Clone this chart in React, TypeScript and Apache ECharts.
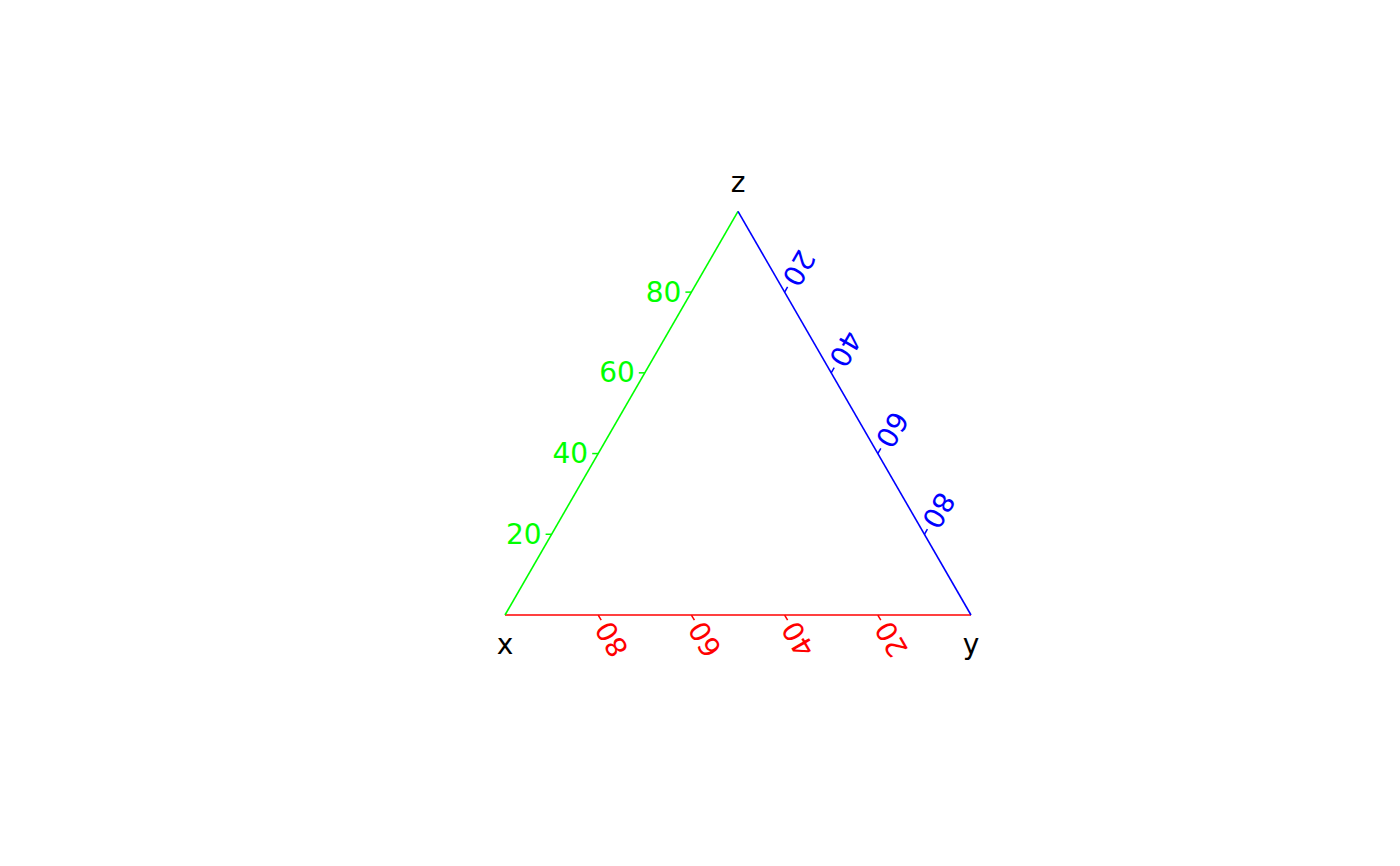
import React, { useEffect, useRef } from "react";
import * as echarts from "echarts";

// Ternary axes: vertex names and tick values (percent)
const vertexNames = ["x", "y", "z"];
const tickValues = [20, 40, 60, 80];
const tickLabels = ["20", "40", "60", "80"];
// ternary composition of each vertex [x, y, z]
const vertexComps = [
  [100, 0, 0],
  [0, 100, 0],
  [0, 0, 100],
];
// axis: which edge, colour
const axisNames = ["bottom", "left", "right"];
const axisColors = ["#FF0000", "#00FF00", "#0000FF"];
// edges between vertices (indices) and the axis they belong to
const edgeFrom = [0, 0, 1];
const edgeTo = [1, 2, 2];

const SQ = Math.sqrt(3) / 2;
function tern(a: number, b: number, c: number): number[] {
  const s = a + b + c;
  return [(b + c / 2) / s, ((c / s) * SQ)];
}

function tickComp(axis: number, v: number): number[] {
  if (axis === 0) return [v, 100 - v, 0]; // bottom: x
  if (axis === 1) return [100 - v, 0, v]; // left: z
  return [0, v, 100 - v]; // right: y
}

const FONT = "DejaVu Sans";
const FS = 28;

export default function App() {
  const ref = useRef<HTMLDivElement>(null);
  useEffect(() => {
    if (!ref.current) return;
    const chart = echarts.init(ref.current, null, { renderer: "svg" });

    const edgeData = edgeFrom.map((f, i) => {
      const p = tern(vertexComps[f][0], vertexComps[f][1], vertexComps[f][2]);
      const q = tern(vertexComps[edgeTo[i]][0], vertexComps[edgeTo[i]][1], vertexComps[edgeTo[i]][2]);
      return [p[0], p[1], q[0], q[1], i];
    });

    const tickData: number[][] = [];
    axisNames.forEach((_, ai) => {
      tickValues.forEach((v, ti) => {
        const c = tickComp(ai, v);
        const p = tern(c[0], c[1], c[2]);
        tickData.push([p[0], p[1], ai, ti]);
      });
    });

    const vertexData = vertexComps.map((c, i) => {
      const p = tern(c[0], c[1], c[2]);
      return [p[0], p[1], i];
    });

    // tick directions (screen pixels) and label rotations per axis
    const tickDir = [
      [0.5, SQ],
      [-1, 0],
      [0.5, -SQ],
    ];
    const rot = [(2 * Math.PI) / 3, 0, (-2 * Math.PI) / 3];
    const TL = 6;
    const GAP = 4;

    chart.setOption({
      animation: false,
      grid: { left: 505, right: 429, top: 211.4, bottom: 251, containLabel: false },
      xAxis: { type: "value", min: 0, max: 1, show: false },
      yAxis: { type: "value", min: 0, max: SQ, show: false },
      series: [
        {
          type: "custom",
          coordinateSystem: "cartesian2d",
          data: edgeData,
          encode: { x: [0, 2], y: [1, 3] },
          renderItem: (params: any, api: any) => {
            const p = api.coord([api.value(0), api.value(1)]);
            const q = api.coord([api.value(2), api.value(3)]);
            const ai = api.value(4);
            return {
              type: "line",
              shape: { x1: p[0], y1: p[1], x2: q[0], y2: q[1] },
              style: { stroke: axisColors[ai], lineWidth: 1.6 },
            };
          },
        },
        {
          type: "custom",
          coordinateSystem: "cartesian2d",
          data: tickData,
          encode: { x: 0, y: 1 },
          renderItem: (params: any, api: any) => {
            const p = api.coord([api.value(0), api.value(1)]);
            const ai = api.value(2);
            const ti = api.value(3);
            const d = tickDir[ai];
            const ex = p[0] + d[0] * TL;
            const ey = p[1] + d[1] * TL;
            const lx = p[0] + d[0] * (TL + GAP);
            const ly = p[1] + d[1] * (TL + GAP);
            return {
              type: "group",
              children: [
                {
                  type: "line",
                  shape: { x1: p[0], y1: p[1], x2: ex, y2: ey },
                  style: { stroke: axisColors[ai], lineWidth: 1.5 },
                },
                {
                  type: "text",
                  x: lx,
                  y: ly,
                  rotation: rot[ai],
                  style: {
                    text: tickLabels[ti],
                    x: 0,
                    y: 0,
                    fill: axisColors[ai],
                    font: `${FS}px "${FONT}"`,
                    align: "right",
                    verticalAlign: "middle",
                  },
                },
              ],
            };
          },
        },
        {
          type: "custom",
          coordinateSystem: "cartesian2d",
          data: vertexData,
          encode: { x: 0, y: 1 },
          renderItem: (params: any, api: any) => {
            const p = api.coord([api.value(0), api.value(1)]);
            const i = api.value(2);
            const dy = i === 2 ? -29 : 29;
            return {
              type: "text",
              x: p[0],
              y: p[1] + dy,
              style: {
                text: vertexNames[i],
                fill: "#000000",
                font: `${FS}px "${FONT}"`,
                align: "center",
                verticalAlign: "middle",
              },
            };
          },
        },
      ],
    });
    return () => chart.dispose();
  }, []);
  return (
    <div
      ref={ref}
      style={{ position: "absolute", left: 0, top: 0, width: 1400, height: 866, background: "#fff" }}
    />
  );
}
